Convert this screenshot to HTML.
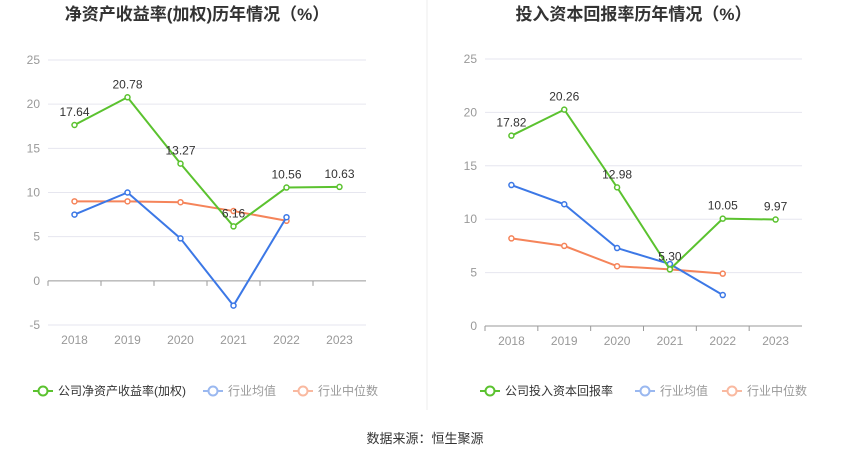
<!DOCTYPE html>
<html><head><meta charset="utf-8"><style>
body{margin:0;background:#fff;width:850px;height:459px;overflow:hidden;font-family:"Liberation Sans","Noto Sans CJK SC",sans-serif;}
svg text{font-family:"Liberation Sans","Noto Sans CJK SC",sans-serif;}
</style></head><body>
<svg id="c" width="850" height="459"></svg>
<script>
const years=["2018","2019","2020","2021","2022","2023"];
const roeCompany=[17.64,20.78,13.27,6.16,10.56,10.63];
const roeAvg=[7.5,10.0,4.8,-2.8,7.2];
const roeMedian=[9.0,9.0,8.9,7.9,6.8];
const roeTicks=[-5,0,5,10,15,20,25];
const roicCompany=[17.82,20.26,12.98,5.30,10.05,9.97];
const roicAvg=[13.2,11.4,7.3,5.8,2.9];
const roicMedian=[8.2,7.5,5.6,5.3,4.9];
const roicTicks=[0,5,10,15,20,25];
const NS="http://www.w3.org/2000/svg";
const svg=document.getElementById('c');
function el(t,a,p){const e=document.createElementNS(NS,t);for(const k in a)e.setAttribute(k,a[k]);(p||svg).appendChild(e);return e;}
function chart(o){
  const g=el('g',{});
  
  
  const x=i=>o.x0+(i+0.5)*(o.x1-o.x0)/years.length;
  const y=v=>o.yb+(v-o.ymin)/(o.ymax-o.ymin)*(o.yt-o.yb);
  const t=el('text',{x:(o.x0+o.x1)/2-10,y:20,'text-anchor':'middle','font-size':'17','font-weight':'bold',fill:'#333'},g);
  t.textContent=o.title;
  
  
  o.ticks.forEach(v=>{
    const l=el('line',{x1:o.x0,x2:o.x1,y1:y(v),y2:y(v),stroke:v===0?'#999':'#e6e6ef','stroke-width':1},g);
    
    
    const tx=el('text',{x:o.x0-8,y:y(v)+4,'text-anchor':'end','font-size':'12',fill:'#999'},g);
    tx.textContent=v;
    
    
  });
  years.forEach((yr,i)=>{
    const tk=el('line',{x1:o.x0+i*(o.x1-o.x0)/6,x2:o.x0+i*(o.x1-o.x0)/6,y1:y(0),y2:y(0)+5,stroke:'#999'},g);
    
    
    const tx=el('text',{x:x(i),y:o.yb+19,'text-anchor':'middle','font-size':'12',fill:'#999'},g);
    tx.textContent=yr;
    
    
  });
  const series=[[o.median,'#f5845a','industry-median-line'],[o.avg,'#3c78e6','industry-average-line'],[o.company,'#5bc22f','company-line']];
  series.forEach(([d,c,n])=>{
    const p=el('polyline',{points:d.map((v,i)=>x(i)+','+y(v)).join(' '),fill:'none',stroke:c,'stroke-width':2},g);
    
    
    d.forEach((v,i)=>{
      const ci=el('circle',{cx:x(i),cy:y(v),r:2.5,fill:'#fff',stroke:c,'stroke-width':1.5},g);
      
      
    });
  });
  o.company.forEach((v,i)=>{
    const tx=el('text',{x:x(i),y:y(v)-9,'text-anchor':'middle','font-size':'12',fill:'#333'},g);
    tx.textContent=v.toFixed(2);
    
    
  });
  const items=[[o.legend,'#5bc22f','#333'],['行业均值','#9ab8f0','#999'],['行业中位数','#f9b9a0','#999']];
  items.forEach(([txt,c,tc],k)=>{
    const lx=o.lx[k];
    const lg=el('g',{},g);
    
    
    el('line',{x1:lx,x2:lx+20,y1:391,y2:391,stroke:c,'stroke-width':2},lg);
    el('circle',{cx:lx+10,cy:391,r:4.5,fill:'#fff',stroke:c,'stroke-width':2},lg);
    const tx=el('text',{x:lx+25,y:395,'font-size':'12',fill:tc},lg);
    tx.textContent=txt;
  });
}
chart({name:'roe-chart',title:'净资产收益率(加权)历年情况（%）',x0:48,x1:366,yt:60,yb:325,ymin:-5,ymax:25,ticks:roeTicks,company:roeCompany,avg:roeAvg,median:roeMedian,legend:'公司净资产收益率(加权)',lx:[33,203,293]});
chart({name:'roic-chart',title:'投入资本回报率历年情况（%）',x0:485,x1:802,yt:59,yb:326,ymin:0,ymax:25,ticks:roicTicks,company:roicCompany,avg:roicAvg,median:roicMedian,legend:'公司投入资本回报率',lx:[480,635,722]});
const dv=el('line',{x1:427,x2:427,y1:0,y2:410,stroke:'#eee'});


const src=el('text',{x:425,y:443,'text-anchor':'middle','font-size':'13',fill:'#333'});
src.textContent='数据来源：恒生聚源';


</script>
</body></html>
